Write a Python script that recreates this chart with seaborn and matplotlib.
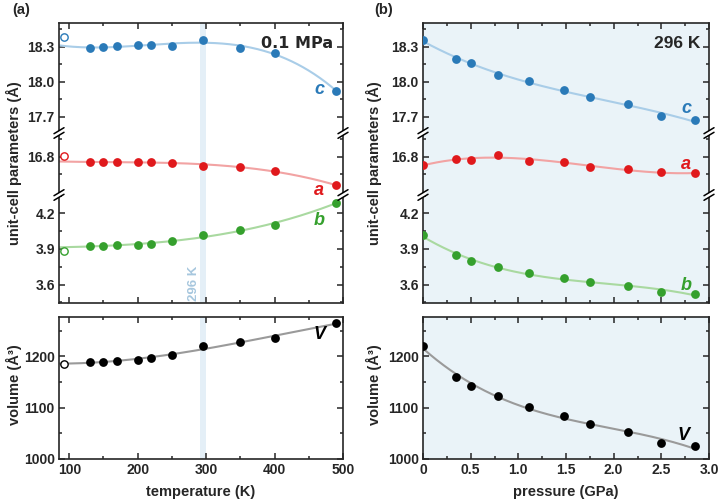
import numpy as np
import pandas as pd
import matplotlib
matplotlib.use("Agg")
import matplotlib.pyplot as plt
import seaborn as sns
from matplotlib.lines import Line2D
from matplotlib.patches import Polygon
from matplotlib.ticker import MultipleLocator, FixedLocator

# ---------------- data ----------------
T_open = [93]
T = [130, 150, 170, 200, 220, 250, 296, 350, 400, 490]
c_T = [18.286, 18.294, 18.309, 18.317, 18.317, 18.303, 18.354, 18.289, 18.249, 17.920]
a_T = [16.754, 16.751, 16.754, 16.754, 16.757, 16.746, 16.723, 16.709, 16.680, 16.554]
b_T = [3.925, 3.928, 3.930, 3.933, 3.942, 3.967, 4.018, 4.060, 4.102, 4.290]
V_T = [1189.0, 1189.0, 1191.6, 1193.5, 1197.4, 1202.6, 1220.6, 1227.7, 1236.8, 1265.0]
c_open = [18.386]
a_open = [16.809]
b_open = [3.880]
V_open = [1185.0]

P = [0.0, 0.35, 0.5, 0.79, 1.11, 1.48, 1.75, 2.15, 2.5, 2.85]
c_P = [18.357, 18.191, 18.157, 18.060, 18.003, 17.931, 17.866, 17.806, 17.703, 17.671]
a_P = [16.726, 16.777, 16.774, 16.814, 16.766, 16.757, 16.709, 16.691, 16.666, 16.657]
b_P = [4.016, 3.849, 3.798, 3.744, 3.699, 3.653, 3.622, 3.586, 3.541, 3.521]
V_P = [1220.6, 1160.0, 1142.0, 1122.6, 1101.9, 1083.9, 1067.7, 1052.9, 1031.6, 1024.5]

a_major = [16.8]
a_minor = [16.65, 16.95]

# ---------------- style ----------------
sns.set_style("ticks")
plt.rcParams["font.family"] = ["Liberation Sans", "DejaVu Sans"]
plt.rcParams["font.weight"] = "bold"
plt.rcParams["axes.linewidth"] = 1.2

COL = {"c": "#2a7ab8", "a": "#e0191c", "b": "#35a02d", "V": "#000000"}
FIT = {"c": "#a9cde8", "a": "#f2a3a3", "b": "#a9d9a0", "V": "#9a9a9a"}

W, H = 720, 503
fig = plt.figure(figsize=(7.2, 5.03), dpi=100)


def fx(px):
    return px / W


def fy(py):
    return 1 - py / H


def make_axes(x0px, x1px):
    x0, w = fx(x0px), (x1px - x0px) / W
    ax_c = fig.add_axes([x0, fy(133), w, 110 / H])
    ax_a = fig.add_axes([x0, fy(195), w, 62 / H])
    ax_b = fig.add_axes([x0, fy(303), w, 108 / H])
    ax_v = fig.add_axes([x0, fy(459), w, 142 / H])
    return ax_c, ax_a, ax_b, ax_v


def style(ax, xmaj, xmin, ymaj, ymin):
    ax.xaxis.set_major_locator(MultipleLocator(xmaj))
    ax.xaxis.set_minor_locator(MultipleLocator(xmin))
    ax.yaxis.set_major_locator(MultipleLocator(ymaj))
    ax.yaxis.set_minor_locator(MultipleLocator(ymin))
    ax.tick_params(which="both", direction="in", top=True, right=True,
                   labelsize=10, width=1.1, pad=3)
    ax.tick_params(which="major", length=4.5)
    ax.tick_params(which="minor", length=2.5)
    ax.set_xlabel("")
    ax.set_ylabel("")


def group(axes, xmaj, xmin):
    ax_c, ax_a, ax_b, ax_v = axes
    style(ax_c, xmaj, xmin, 0.3, 0.15)
    style(ax_a, xmaj, xmin, 0.3, 0.15)
    ax_a.yaxis.set_major_locator(FixedLocator(a_major))
    ax_a.yaxis.set_minor_locator(FixedLocator(a_minor))
    style(ax_b, xmaj, xmin, 0.3, 0.15)
    style(ax_v, xmaj, xmin, 100, 50)
    ax_c.spines["bottom"].set_visible(False)
    ax_c.tick_params(which="both", bottom=False, labelbottom=False)
    ax_a.spines["bottom"].set_visible(False)
    ax_a.spines["top"].set_visible(False)
    ax_a.tick_params(which="both", bottom=False, top=False, labelbottom=False)
    ax_b.spines["top"].set_visible(False)
    ax_b.tick_params(which="both", top=False, labelbottom=False)
    ax_c.set_ylim(17.56, 18.503)
    ax_a.set_ylim(16.4715, 17.003)
    ax_b.set_ylim(3.445, 4.3546)
    ax_v.set_ylim(1000, 1277)
    for ax in axes:
        for lab in ax.get_xticklabels() + ax.get_yticklabels():
            lab.set_fontweight("bold")


def fit_line(ax, x, y, color, xr):
    coef = np.polyfit(x, y, 3)
    xs = np.linspace(xr[0], xr[1], 200)
    sns.lineplot(x=xs, y=np.polyval(coef, xs), ax=ax, color=color, lw=1.5, zorder=2)


def points(ax, x, y, color):
    sns.scatterplot(x=x, y=y, ax=ax, color=color, s=40, linewidth=0, zorder=3)


def open_points(ax, x, y, color):
    sns.scatterplot(x=x, y=y, ax=ax, facecolor="white", edgecolor=color, s=28,
                    linewidth=1.0, zorder=3)


# ---------------- left: temperature ----------------
L = make_axes(59, 343)
xr_T = (85, 495)
for ax, key, y, yo in zip(L, ["c", "a", "b", "V"], [c_T, a_T, b_T, V_T],
                          [c_open, a_open, b_open, V_open]):
    ax.axvspan(291.5, 300.5, color="#e4eff7", zorder=0, lw=0)
    fit_line(ax, T, y, FIT[key], xr_T)
    points(ax, T, y, COL[key])
    open_points(ax, T_open, yo, COL[key])
    ax.set_xlim(85, 500)
group(L, 100, 50)

lab_kw = dict(fontsize=13, fontweight="bold", fontstyle="italic",
              ha="center", va="center")
L[0].text(465, 17.937, "c", color=COL["c"], **lab_kw)
L[1].text(465, 16.514, "a", color=COL["a"], **lab_kw)
L[2].text(465, 4.144, "b", color=COL["b"], **lab_kw)
L[3].text(465, 1242, "V", color=COL["V"], **lab_kw)
L[0].text(0.965, 0.81, "0.1 MPa", transform=L[0].transAxes, ha="right",
          va="center", fontsize=11.5, fontweight="bold", family="DejaVu Sans")
L[2].text(283, 3.462, "296 K", rotation=90, ha="center", va="bottom",
          fontsize=9.5, fontweight="bold", color="#a7c7de")

# ---------------- right: pressure ----------------
R = make_axes(423, 709)
xr_P = (0, 2.87)
for ax, key, y in zip(R, ["c", "a", "b", "V"], [c_P, a_P, b_P, V_P]):
    ax.set_facecolor("#eaf3f8")
    fit_line(ax, P, y, FIT[key], xr_P)
    points(ax, P, y, COL[key])
    ax.set_xlim(0, 3.0)
group(R, 0.5, 0.25)
R[0].text(2.76, 17.766, "c", color=COL["c"], **lab_kw)
R[1].text(2.76, 16.729, "a", color=COL["a"], **lab_kw)
R[2].text(2.76, 3.596, "b", color=COL["b"], **lab_kw)
R[3].text(2.73, 1046, "V", color=COL["V"], **lab_kw)
R[0].text(0.97, 0.81, "296 K", transform=R[0].transAxes, ha="right",
          va="center", fontsize=12.5, fontweight="bold")

R[3].xaxis.set_major_formatter(matplotlib.ticker.FuncFormatter(
    lambda v, p: "0" if abs(v) < 1e-9 else f"{v:.1f}"))

# ---------------- labels ----------------
lbl = dict(fontsize=10.5, fontweight="bold")
fig.text(fx(14), fy(163), "unit-cell parameters (Å)", rotation=90,
         ha="center", va="center", **lbl)
fig.text(fx(374), fy(163), "unit-cell parameters (Å)", rotation=90,
         ha="center", va="center", **lbl)
fig.text(fx(14), fy(385), "volume (Å³)", rotation=90,
         ha="center", va="center", **lbl)
fig.text(fx(374), fy(385), "volume (Å³)", rotation=90,
         ha="center", va="center", **lbl)
fig.text(fx(201), fy(492), "temperature (K)", ha="center", va="center", **lbl)
fig.text(fx(566), fy(492), "pressure (GPa)", ha="center", va="center", **lbl)
fig.text(fx(21), fy(10), "(a)", ha="center", va="center", **lbl)
fig.text(fx(384), fy(10), "(b)", ha="center", va="center", **lbl)


# ---------------- axis breaks ----------------
def brk(px, py, bg):
    dx, dy, g = 5.0, 3.0, 2.3
    poly = [(px - 3, py + 1.8 - g), (px + 3, py - 1.8 - g),
            (px + 3, py - 1.8 + g), (px - 3, py + 1.8 + g)]
    fig.add_artist(Polygon([(fx(a), fy(b)) for a, b in poly], closed=True,
                           facecolor=bg, edgecolor="none",
                           transform=fig.transFigure, zorder=20))
    for off in (-g, g):
        fig.add_artist(Line2D([fx(px - dx), fx(px + dx)],
                              [fy(py + dy + off), fy(py - dy + off)],
                              color="black", lw=1.1,
                              transform=fig.transFigure, zorder=21))


for xpx in (59, 343, 423, 709):
    for ypx in (133, 195):
        brk(xpx, ypx, "white")

fig.savefig("out.png", dpi=100)
